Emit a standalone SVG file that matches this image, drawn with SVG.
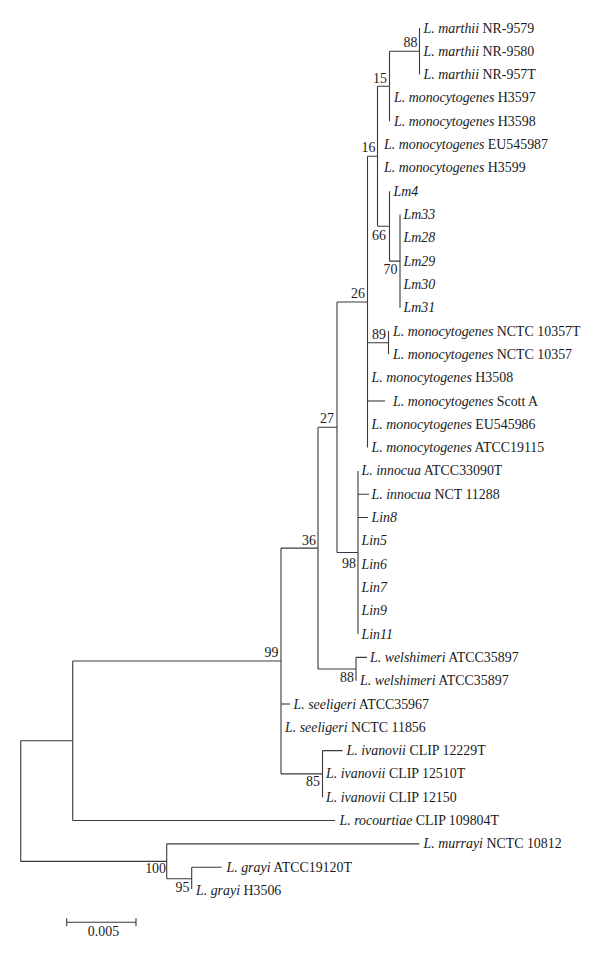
<svg xmlns="http://www.w3.org/2000/svg" width="600" height="960" viewBox="0 0 600 960">
<style>
text{font-family:"Liberation Serif","Times New Roman",serif;font-size:13.9px;fill:#1a1a1a}
.i{font-style:italic}
.b{text-anchor:end}
.e{fill:none;stroke:#3a3a3a;stroke-width:1.1}
</style>
<rect width="600" height="960" fill="#fff"/>
<g id="connectors" class="e">
<path d="M389.5 51.3H419.5M419.5 28V74.6"/>
<path d="M377.5 86.3H389.5M389.5 51.3V121.2"/>
<path d="M389.5 261.1H400M400 214.5V307.7"/>
<path d="M377.5 226.2H389.5M389.5 191.2V261.1"/>
<path d="M367.5 156.3H377.5M377.5 86.3V226.2"/>
<path d="M367.5 342.7H388.5M388.5 331V354.3"/>
<path d="M367.5 401H385"/>
<path d="M337 302H367.5M367.5 156.3V447.6"/>
<path d="M358 494.2H369M358 517.5H368"/>
<path d="M337 552.5H358M358 470.9V634.1"/>
<path d="M318 427.2H337M337 302V552.5"/>
<path d="M356 657.4H367M318 669H356M356 657.4V680.7"/>
<path d="M281 548.1H318M318 427.2V669"/>
<path d="M322.5 750.6H342.5M281 773.9H322.5M322.5 750.6V797.2"/>
<path d="M281 704H290"/>
<path d="M72.7 661H281M281 548.1V773.9"/>
<path d="M72.7 820.5H335"/>
<path d="M20.7 740.8H72.7M72.7 661V820.5"/>
<path d="M191.7 867.2H221.7M166.7 878.8H191.7M191.7 867.2V889"/>
<path d="M166.7 843.9H419.3"/>
<path d="M20.7 861.4H166.7M166.7 843.9V878.8"/>
<path d="M20.7 740.8V861.4"/>
<path d="M66.7 922.3H136M66.7 918.3V926.3M136 918.3V926.3"/>
</g>
<g id="leaves">
<text x="423.5" y="32.5"><tspan class="i">L. marthii</tspan> NR-9579</text>
<text x="423.5" y="55.8"><tspan class="i">L. marthii</tspan> NR-9580</text>
<text x="423.5" y="79.1"><tspan class="i">L. marthii</tspan> NR-957T</text>
<text x="394" y="102.4"><tspan class="i">L. monocytogenes</tspan> H3597</text>
<text x="394" y="125.7"><tspan class="i">L. monocytogenes</tspan> H3598</text>
<text x="384" y="149.1"><tspan class="i">L. monocytogenes</tspan> EU545987</text>
<text x="384" y="172.4"><tspan class="i">L. monocytogenes</tspan> H3599</text>
<text class="i" x="393.5" y="195.7">Lm4</text>
<text class="i" x="403.5" y="219">Lm33</text>
<text class="i" x="403.5" y="242.3">Lm28</text>
<text class="i" x="403.5" y="265.6">Lm29</text>
<text class="i" x="403.5" y="288.9">Lm30</text>
<text class="i" x="403.5" y="312.2">Lm31</text>
<text x="393" y="335.5"><tspan class="i">L. monocytogenes</tspan> NCTC 10357T</text>
<text x="393" y="358.8"><tspan class="i">L. monocytogenes</tspan> NCTC 10357</text>
<text x="371.5" y="382.2"><tspan class="i">L. monocytogenes</tspan> H3508</text>
<text x="393" y="405.5"><tspan class="i">L. monocytogenes</tspan> Scott A</text>
<text x="371.5" y="428.8"><tspan class="i">L. monocytogenes</tspan> EU545986</text>
<text x="371.5" y="452.1"><tspan class="i">L. monocytogenes</tspan> ATCC19115</text>
<text x="361.5" y="475.4"><tspan class="i">L. innocua</tspan> ATCC33090T</text>
<text x="371.5" y="498.7"><tspan class="i">L. innocua</tspan> NCT 11288</text>
<text class="i" x="371.5" y="522">Lin8</text>
<text class="i" x="361.5" y="545.3">Lin5</text>
<text class="i" x="361.5" y="568.6">Lin6</text>
<text class="i" x="361.5" y="591.9">Lin7</text>
<text class="i" x="361.5" y="615.3">Lin9</text>
<text class="i" x="361.5" y="638.6">Lin11</text>
<text x="370" y="661.9"><tspan class="i">L. welshimeri</tspan> ATCC35897</text>
<text x="360" y="685.2"><tspan class="i">L. welshimeri</tspan> ATCC35897</text>
<text x="293.5" y="708.5"><tspan class="i">L. seeligeri</tspan> ATCC35967</text>
<text x="285" y="731.8"><tspan class="i">L. seeligeri</tspan> NCTC 11856</text>
<text x="346.5" y="755.1"><tspan class="i">L. ivanovii</tspan> CLIP 12229T</text>
<text x="326" y="778.4"><tspan class="i">L. ivanovii</tspan> CLIP 12510T</text>
<text x="326" y="801.7"><tspan class="i">L. ivanovii</tspan> CLIP 12150</text>
<text x="339.5" y="825"><tspan class="i">L. rocourtiae</tspan> CLIP 109804T</text>
<text x="423.5" y="848.4"><tspan class="i">L. murrayi</tspan> NCTC 10812</text>
<text x="226.5" y="871.7"><tspan class="i">L. grayi</tspan> ATCC19120T</text>
<text x="196" y="895"><tspan class="i">L. grayi</tspan> H3506</text>
</g>
<g id="support">
<text class="b" x="417.5" y="46.5">88</text>
<text class="b" x="387" y="82.5">15</text>
<text class="b" x="375.5" y="152">16</text>
<text class="b" x="386" y="240">66</text>
<text class="b" x="397.5" y="274">70</text>
<text class="b" x="365" y="298">26</text>
<text class="b" x="386" y="338.5">89</text>
<text class="b" x="334" y="423">27</text>
<text class="b" x="316" y="544.5">36</text>
<text class="b" x="356" y="567.5">98</text>
<text class="b" x="278.5" y="656.5">99</text>
<text class="b" x="354" y="682">88</text>
<text class="b" x="320" y="786">85</text>
<text class="b" x="166" y="873">100</text>
<text class="b" x="189.5" y="892">95</text>
</g>
<g id="scale">
<text x="103.5" y="935.5" text-anchor="middle">0.005</text>
</g>
</svg>
